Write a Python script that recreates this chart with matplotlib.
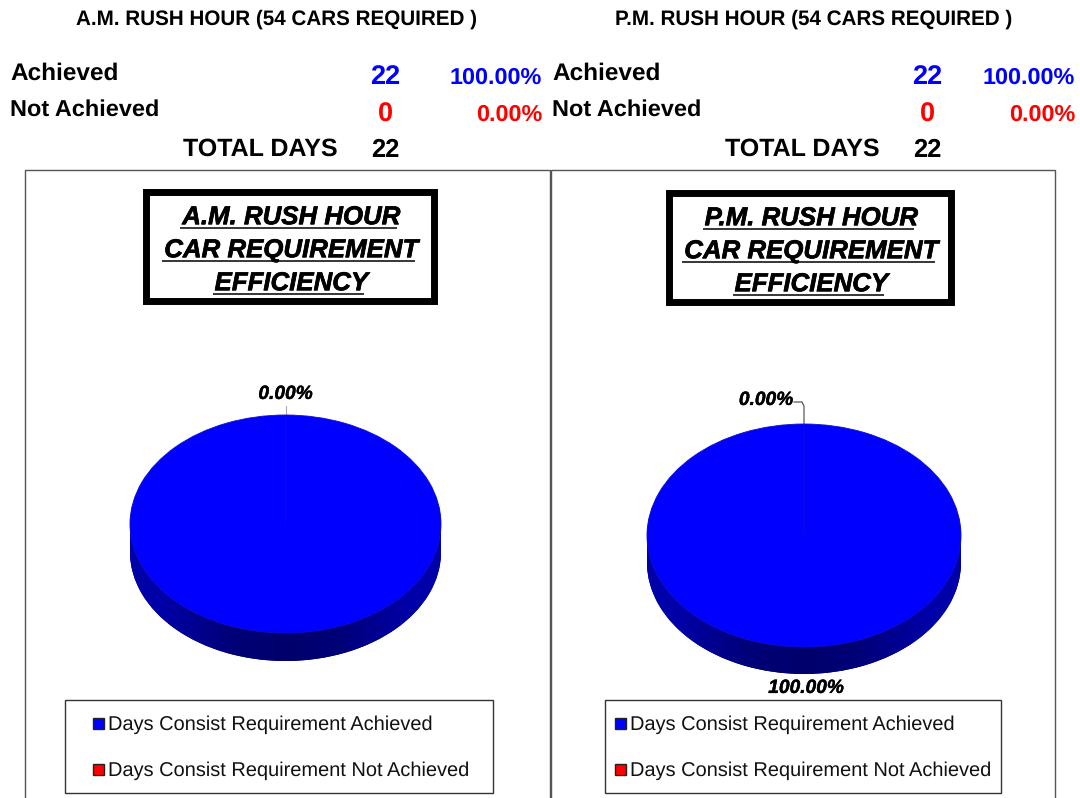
#!/usr/bin/env python3
import numpy as np
import matplotlib
matplotlib.use("Agg")
import matplotlib.pyplot as plt
from matplotlib.patches import Rectangle, Polygon
import matplotlib.patheffects as pe

W, H = 1080, 798
plt.rcParams['font.family'] = ['Liberation Sans', 'DejaVu Sans']
plt.rcParams['text.hinting'] = 'none'

# data
pie_values = [22, 0]
pie_colors = ['#0000ff', '#ff0000']
pie_labels = ['100.00%', '0.00%']
legend_labels = ['Days Consist Requirement Achieved', 'Days Consist Requirement Not Achieved']
row_labels = ['Achieved', 'Not Achieved']
day_counts = ['22', '0']
day_pcts = ['100.00%', '0.00%']
total_days = '22'

fig = plt.figure(figsize=(W/100, H/100), dpi=100, facecolor='white')
bg = fig.add_axes([0, 0, 1, 1])
bg.set_xlim(0, W)
bg.set_ylim(H, 0)
bg.axis('off')

# side of the pie, lighter at both ends
side = np.array([[-1, -0.55, 0, 0.55, 1]])
side_cmap = matplotlib.colors.LinearSegmentedColormap.from_list('side', ['#0000a8', '#000078', '#00006c', '#000078', '#0000a8'])


def panel(dx, hx, pdx, head, title_lines, frame, tbox, pie_box, depth, lab0, lab1, lead, legbox, leg_dx):
    bg.text(hx, 19, head, fontsize=14.9, fontweight='bold', ha='center', va='center')

    # summary rows
    bg.text(10+dx, 74, row_labels[0], fontsize=17.6, fontweight='bold', va='center')
    bg.text(10+dx, 110, row_labels[1], fontsize=16.9, fontweight='bold', va='center')
    bg.text(385+dx, 77, day_counts[0], fontsize=19.5, fontweight='bold', color='#0000ff', ha='center', va='center')
    bg.text(385+dx, 115, day_counts[1], fontsize=19.5, fontweight='bold', color='#ff0000', ha='center', va='center')
    bg.text(542+pdx, 78, day_pcts[0], fontsize=16.8, fontweight='bold', color='#0000ff', ha='right', va='center')
    bg.text(542+pdx, 115, day_pcts[1], fontsize=16.8, fontweight='bold', color='#ff0000', ha='right', va='center')
    bg.text(338+dx, 149, 'TOTAL DAYS', fontsize=18, fontweight='bold', ha='right', va='center')
    bg.text(385+dx, 150, total_days, fontsize=18.4, fontweight='bold', ha='center', va='center')

    # frame runs off the bottom of the picture
    bg.add_patch(Rectangle((frame[0], 170), frame[1]-frame[0], H, fc='white', ec='#555555', lw=1))

    # title box
    x0, y0, x1, y1 = tbox
    bg.add_patch(Rectangle((x0+3, y0+3), x1-x0-7, y1-y0-7, fc='white', ec='black', lw=5))
    cx = (x0+x1)/2
    for i, line in enumerate(title_lines):
        y = y0 + 28.5 + i*33
        t = bg.text(cx+1, y, line, fontsize=18.6, fontweight='bold', style='italic', ha='center', va='center',
                    path_effects=[pe.withStroke(linewidth=0.5, foreground='black')])
        bb = t.get_window_extent(fig.canvas.get_renderer())
        bg.plot([bb.x0-2, bb.x1-4], [y+10.5, y+10.5], color='black', lw=1.1, solid_capstyle='butt')

    # pie, top ellipse sits in pie_box, extra room below for the side
    px0, py0, px1, py1 = pie_box
    ry_px = (py1-py0)/2
    d = depth/ry_px
    ax = fig.add_axes([px0/W, 1-(py1+depth)/H, (px1-px0)/W, (py1+depth-py0)/H])
    for off in np.linspace(d, 0.01, 12):
        ax.pie(pie_values, colors=['#00007c', '#00007c'], startangle=90, counterclock=False,
               center=(0, -off), radius=1)
    t_ = np.linspace(np.pi, 2*np.pi, 120)
    outline = np.column_stack([np.cos(t_), np.sin(t_)-d])
    outline = np.vstack([[-1, 0], outline, [1, 0]])
    clip = Polygon(outline, transform=ax.transData, fc='none', ec='none')
    ax.add_patch(clip)
    im = ax.imshow(side, cmap=side_cmap, extent=(-1, 1, -1-d, 0), aspect='auto', interpolation='bilinear', zorder=1.5)
    im.set_clip_path(clip)
    wedges, _ = ax.pie(pie_values, colors=pie_colors, startangle=90, counterclock=False, radius=1,
                       wedgeprops=dict(edgecolor='#1010c8', linewidth=0.6))
    for w in wedges:
        w.set_zorder(2)
    ax.set_aspect('auto')
    ax.set_xlim(-1, 1)
    ax.set_ylim(-1-d, 1)

    for lab, txt in ((lab0, pie_labels[1]), (lab1, pie_labels[0])):
        bg.text(lab[0], lab[1], txt, fontsize=13.8, fontweight='bold', style='italic', ha='center', va='center',
                path_effects=[pe.withStroke(linewidth=0.3, foreground='black')])
    bg.plot(lead[0], lead[1], color=lead[2], lw=0.8)

    # legend
    lx0, ly0, lx1, ly1 = legbox
    bg.add_patch(Rectangle((lx0-0.5, ly0-0.5), lx1-lx0, ly1-ly0, fc='white', ec='#333333', lw=1))
    for j, yy in enumerate([723, 769]):
        bg.add_patch(Rectangle((lx0+leg_dx, yy-5.5), 11, 11, fc=pie_colors[j], ec='#222222', lw=1))
        bg.text(lx0+leg_dx+15, yy+2, legend_labels[j], fontsize=14.4, va='center', color='#111111')


panel(0, 277, 0, 'A.M. RUSH HOUR (54 CARS REQUIRED )',
      ['A.M. RUSH HOUR', 'CAR REQUIREMENT', 'EFFICIENCY'],
      (25, 549.5), (143, 189, 438, 305),
      (130, 415, 441, 633), 28, (285.5, 394), (286.5, 615),
      ([285.5, 285.5], [406, 416], '#aaaaaa'), (65, 700, 493, 793), 28)

panel(542, 814, 533, 'P.M. RUSH HOUR (54 CARS REQUIRED )',
      ['P.M. RUSH HOUR', 'CAR REQUIREMENT', 'EFFICIENCY'],
      (551, 1054.5), (666, 190, 955, 306),
      (647, 424, 961, 647), 27, (766, 400), (806, 688),
      ([794, 802, 804, 804], [402, 402, 406, 424], '#444444'), (605, 700, 1001, 793), 10)

plt.savefig('out.png', dpi=100)
